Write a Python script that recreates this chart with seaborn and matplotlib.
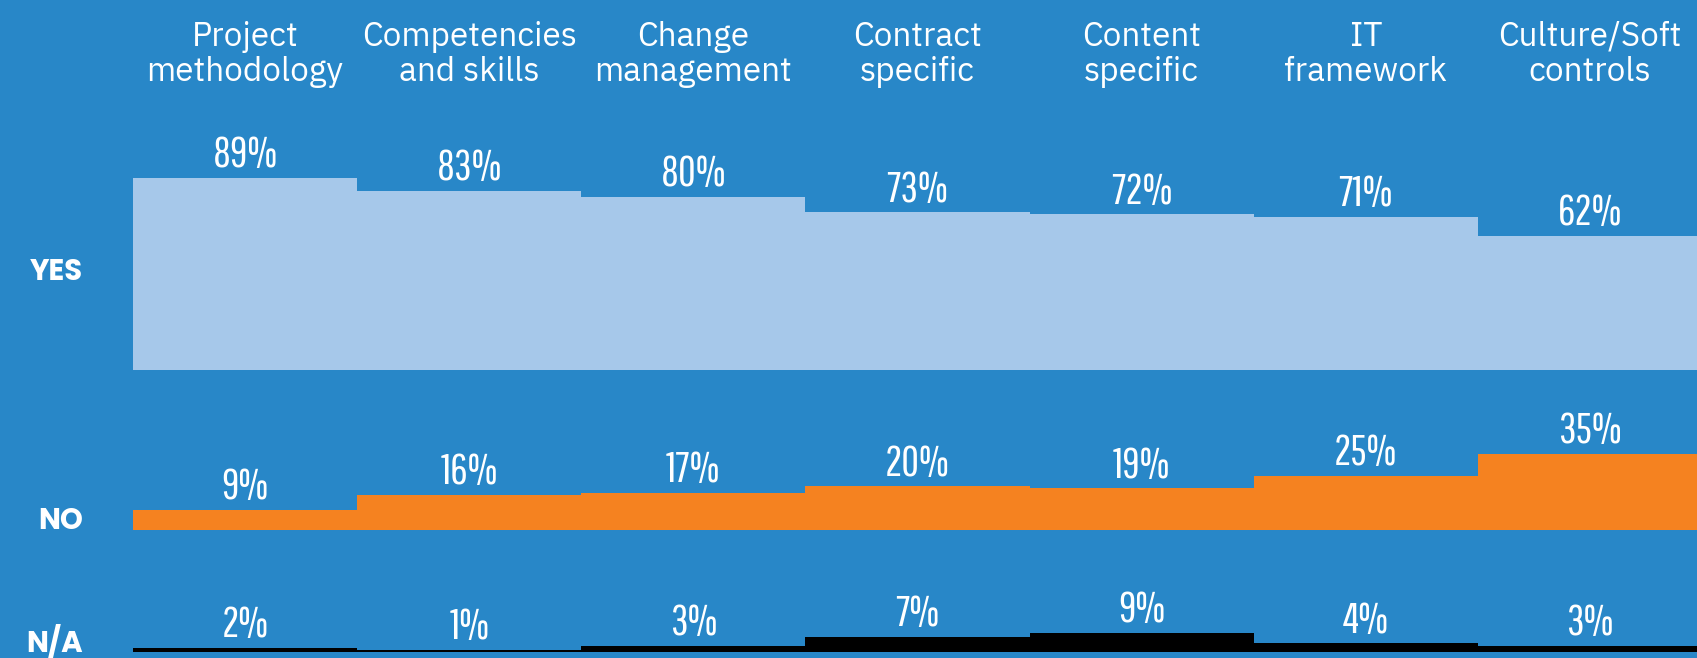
import matplotlib
matplotlib.use("Agg")
import matplotlib.pyplot as plt
import pandas as pd
import seaborn as sns

categories = ["Project\nmethodology", "Competencies\nand skills", "Change\nmanagement",
              "Contract\nspecific", "Content\nspecific", "IT\nframework",
              "Culture/Soft\ncontrols"]
yes = [89, 83, 80, 73, 72, 71, 62]
no = [9, 16, 17, 20, 19, 25, 35]
na = [2, 1, 3, 7, 9, 4, 3]
row_names = ["YES", "NO", "N/A"]

BG = "#2887C8"
COLORS = ["#A6C8EA", "#F58220", "#000000"]

sns.set_style("white")
plt.rcParams["font.family"] = ["DejaVu Sans"]

W, H = 1697, 658
fig = plt.figure(figsize=(W / 100, H / 100), dpi=100, facecolor=BG)

px_per_pct = 2.16
left, right = 133, 1702
# (baseline from top in px, y-limit in percent, row label y in px)
rows = [(370, 110, 273), (529.5, 50, 522), (652, 20, 643)]

df = pd.DataFrame({"category": categories, "YES": yes, "NO": no, "N/A": na})

axes = []
for (base, ylim, label_y), name, color in zip(rows, row_names, COLORS):
    ax = fig.add_axes([left / W, (H - base) / H, (right - left) / W,
                       ylim * px_per_pct / H])
    sns.barplot(data=df, x="category", y=name, color=color, width=1.0,
                saturation=1, edgecolor="none", linewidth=0, ax=ax)
    ax.set_xlim(-0.5, 6.5)
    ax.set_ylim(0, ylim)
    ax.set_facecolor("none")
    for s in ax.spines.values():
        s.set_visible(False)
    ax.set_xlabel("")
    ax.set_ylabel("")
    ax.set_yticks([])
    ax.tick_params(length=0)
    ax.set_xticklabels([])
    ax.bar_label(ax.containers[0], labels=[f"{v}%" for v in df[name]],
                 padding=2, color="white", fontsize=31,
                 family=["Pathway Gothic One", "DejaVu Sans"])
    fig.text(83 / W, 1 - label_y / H, name, ha="right", va="center",
             color="white", fontsize=21, fontweight="bold",
             family=["Poppins", "DejaVu Sans"])
    axes.append(ax)

top = axes[0]
top.xaxis.tick_top()
top.set_xticks(range(len(categories)))
top.set_xticklabels(categories, fontsize=24, color="white",
                    family=["IBM Plex Sans Light", "IBM Plex Sans", "DejaVu Sans"],
                    fontweight="light", linespacing=1.12)
top.tick_params(axis="x", pad=32, length=0)

fig.savefig("out.png", dpi=100, facecolor=BG)
